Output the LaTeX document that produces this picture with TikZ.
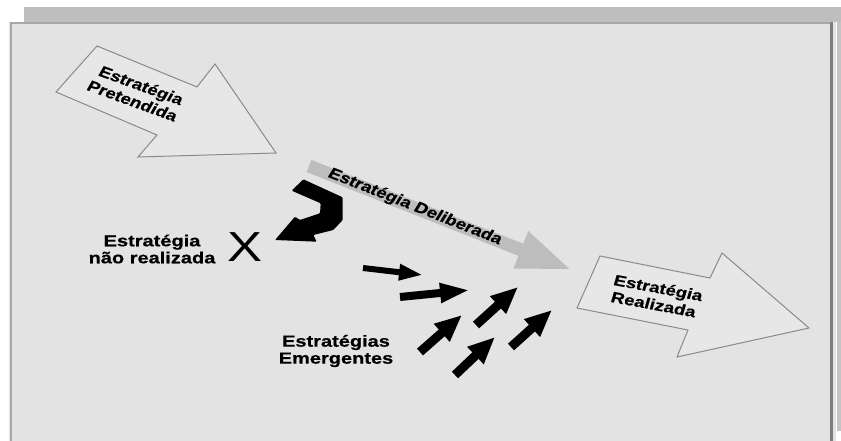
\documentclass[tikz,border=0pt]{standalone}
\usepackage{fontspec}
\setmainfont{Liberation Sans}
\newfontfamily\labfont[FakeStretch=1.25, BoldFeatures={FakeBold=0.6}]{Liberation Sans}
\newfontfamily\plainfont[BoldFeatures={FakeBold=0.6}]{Liberation Sans}
\usetikzlibrary{arrows.meta}
\definecolor{panelfill}{HTML}{E3E3E3}
\definecolor{bandgray}{HTML}{BEBEBE}
\definecolor{edgelight}{HTML}{A8A8A8}
\definecolor{edgedark}{HTML}{7E7E7E}
\definecolor{stripgray}{HTML}{C4C4C4}
\definecolor{outlinegray}{HTML}{8A8A8A}
\definecolor{arrowfill}{HTML}{E7E7E7}
\definecolor{delibgray}{HTML}{BDBDBD}
\begin{document}
\begin{tikzpicture}[x=1pt,y=-1pt,
  lab/.style={font=\labfont\bfseries\fontsize{16}{17}\selectfont, align=center, inner sep=0pt},
  arrowlab/.style={font=\plainfont\bfseries\fontsize{15}{17}\selectfont, align=center, inner sep=0pt},
  bigarrow/.style={draw=outlinegray, fill=arrowfill, line width=1pt, line join=miter},
  emarrow/.style={line width=9pt, -{Triangle[length=27pt,width=22pt]}},
  emthin/.style={line width=6pt, -{Triangle[length=24pt,width=15pt]}},
  emmid/.style={line width=8pt, -{Triangle[length=30pt,width=18pt]}}
]
\useasboundingbox (0,0) rectangle (841,441);
% frame
\fill[white] (0,0) rectangle (841,441);
\fill[bandgray] (24,7) rectangle (841,22);
\fill[panelfill] (9,22) rectangle (836,441);
\draw[line width=2pt, edgelight] (11,23) -- (11,441);
\draw[line width=1.5pt, edgelight] (10,23) -- (832,23);
\draw[line width=3pt, edgedark] (831.5,22) -- (831.5,441);
\fill[stripgray] (837,22) rectangle (841,441);
\fill[white] (836,431) rectangle (841,441);

% Estrategia Pretendida arrow
\filldraw[bigarrow] (97,46) -- (197,87) -- (215,64) -- (276,153) -- (138,157) -- (157,135) -- (56,92) -- cycle;
\node[arrowlab, xscale=1.25, rotate=-24.5] (pret) at (137,93) {Estratégia\\Pretendida};

% Estrategia Realizada arrow
\filldraw[bigarrow] (600,256) -- (710,278) -- (722,253) -- (809,328) -- (677,357) -- (688,330) -- (577,308) -- cycle;
\node[arrowlab, xscale=1.25, rotate=-13] (real) at (656,296) {Estratégia\\Realizada};

% Estrategia Deliberada arrow
\coordinate (dA) at (309,166);
\coordinate (dB) at (572,270);
\draw[delibgray, line width=13pt, -{Triangle[length=55pt,width=36pt]}] (dA) -- (dB);
\node[arrowlab, xscale=1.25, rotate=-26.3] (delib) at (415,207) {Estratégia Deliberada};

% black bent arrow
\fill[black, rounded corners=1pt] (291.7,190.7) -- (303.3,179.3) -- (342.7,197.3) -- (342.7,220) -- (333.3,230) -- (313.3,235) -- (316.7,241.7) -- (275,240) -- (295,216.7) -- (300,220) -- (320,213.3) -- (320.7,203.3) -- cycle;

% X and label
\node[font=\labfont\fontsize{42}{42}\selectfont, inner sep=0pt] (x) at (245,247) {X};
\node[lab] (naoreal) at (152,249) {Estratégia\\não realizada};

% emergent strategies
\node[lab] (emerg) at (336,351) {Estratégias\\Emergentes};
\coordinate (e1a) at (363,268); \coordinate (e1b) at (423,275);
\coordinate (e2a) at (400,297); \coordinate (e2b) at (470,290);
\coordinate (e3a) at (420,352); \coordinate (e3b) at (462,315);
\coordinate (e4a) at (476,325); \coordinate (e4b) at (518,287);
\coordinate (e5a) at (455,375); \coordinate (e5b) at (495,337);
\coordinate (e6a) at (511,347); \coordinate (e6b) at (552,310);
\draw[emthin] (e1a) -- (e1b);
\draw[emmid] (e2a) -- (e2b);
\draw[emarrow] (e3a) -- (e3b);
\draw[emarrow] (e4a) -- (e4b);
\draw[emarrow] (e5a) -- (e5b);
\draw[emarrow] (e6a) -- (e6b);
\end{tikzpicture}
\end{document}
